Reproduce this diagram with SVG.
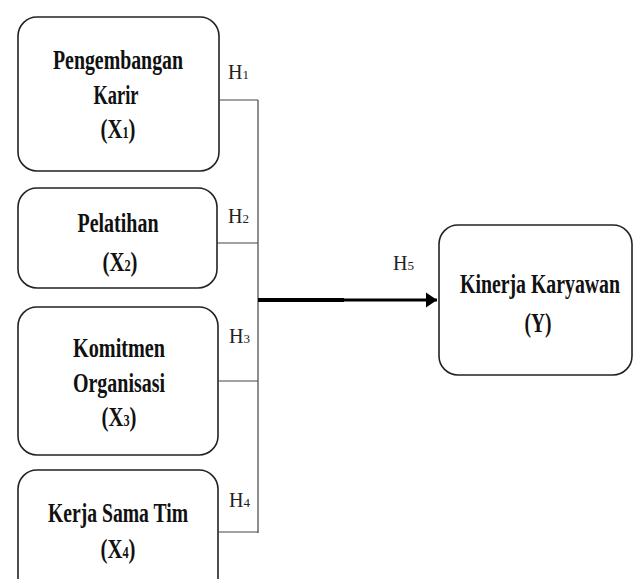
<svg xmlns="http://www.w3.org/2000/svg" width="640" height="579" viewBox="0 0 640 579">
<defs>
<style>
.box{fill:#fff;stroke:#222;stroke-width:1.6}
.t{font-family:"Liberation Serif","Times New Roman",serif;font-weight:bold;font-size:27px;fill:#111;text-anchor:middle}
.sub{font-size:16px}
.h{font-family:"Liberation Serif","Times New Roman",serif;font-size:20px;fill:#222}
.hs{font-size:13px}
.ln{fill:none;stroke:#444;stroke-width:1.2}
.ar{fill:none;stroke:#000}
</style>
<marker id="ah" markerUnits="userSpaceOnUse" markerWidth="12" markerHeight="16" refX="11" refY="8" orient="auto">
<path d="M0,0.5 L11,8 L0,15.5 Z" fill="#000"/>
</marker>
</defs>
<rect width="640" height="579" fill="#fff"/>

<g id="x1">
<rect class="box" x="18" y="17" width="201" height="154" rx="19"/>
<text class="t" x="118" y="69" textLength="130" lengthAdjust="spacingAndGlyphs">Pengembangan</text>
<text class="t" x="116" y="104" textLength="45" lengthAdjust="spacingAndGlyphs">Karir</text>
<text class="t" x="118" y="138" textLength="35" lengthAdjust="spacingAndGlyphs">(X<tspan class="sub">1</tspan>)</text>
</g>

<g id="x2">
<rect class="box" x="18" y="188" width="199" height="100" rx="19"/>
<text class="t" x="118" y="232" textLength="81" lengthAdjust="spacingAndGlyphs">Pelatihan</text>
<text class="t" x="120" y="271" textLength="35" lengthAdjust="spacingAndGlyphs">(X<tspan class="sub">2</tspan>)</text>
</g>

<g id="x3">
<rect class="box" x="18" y="307" width="200" height="148" rx="19"/>
<text class="t" x="119" y="357" textLength="92" lengthAdjust="spacingAndGlyphs">Komitmen</text>
<text class="t" x="119" y="392" textLength="92" lengthAdjust="spacingAndGlyphs">Organisasi</text>
<text class="t" x="119" y="426" textLength="35" lengthAdjust="spacingAndGlyphs">(X<tspan class="sub">3</tspan>)</text>
</g>

<g id="x4">
<rect class="box" x="18" y="470" width="200" height="140" rx="19"/>
<text class="t" x="118" y="522" textLength="140" lengthAdjust="spacingAndGlyphs">Kerja Sama Tim</text>
<text class="t" x="118" y="558" textLength="35" lengthAdjust="spacingAndGlyphs">(X<tspan class="sub">4</tspan>)</text>
</g>

<g id="y">
<rect class="box" x="439" y="225" width="193" height="150" rx="19"/>
<text class="t" x="540" y="293" textLength="160" lengthAdjust="spacingAndGlyphs">Kinerja Karyawan</text>
<text class="t" x="538" y="332" textLength="27" lengthAdjust="spacingAndGlyphs">(Y)</text>
</g>

<g id="connectors">
<path class="ln" d="M219 100 H258 M258 100 V533 M217 243 H258 M218 381 H258 M218 532 H258"/>
<path class="ar" stroke-width="4" d="M258 300 H344"/>
<path class="ar" stroke-width="3" d="M343 300 H437" marker-end="url(#ah)"/>
</g>

<g id="labels">
<text class="h" x="228" y="79" textLength="21" lengthAdjust="spacingAndGlyphs">H<tspan class="hs">1</tspan></text>
<text class="h" x="228" y="223" textLength="21" lengthAdjust="spacingAndGlyphs">H<tspan class="hs">2</tspan></text>
<text class="h" x="229" y="343" textLength="21" lengthAdjust="spacingAndGlyphs">H<tspan class="hs">3</tspan></text>
<text class="h" x="229" y="507" textLength="21" lengthAdjust="spacingAndGlyphs">H<tspan class="hs">4</tspan></text>
<text class="h" x="393" y="270" textLength="21" lengthAdjust="spacingAndGlyphs">H<tspan class="hs">5</tspan></text>
</g>
</svg>
